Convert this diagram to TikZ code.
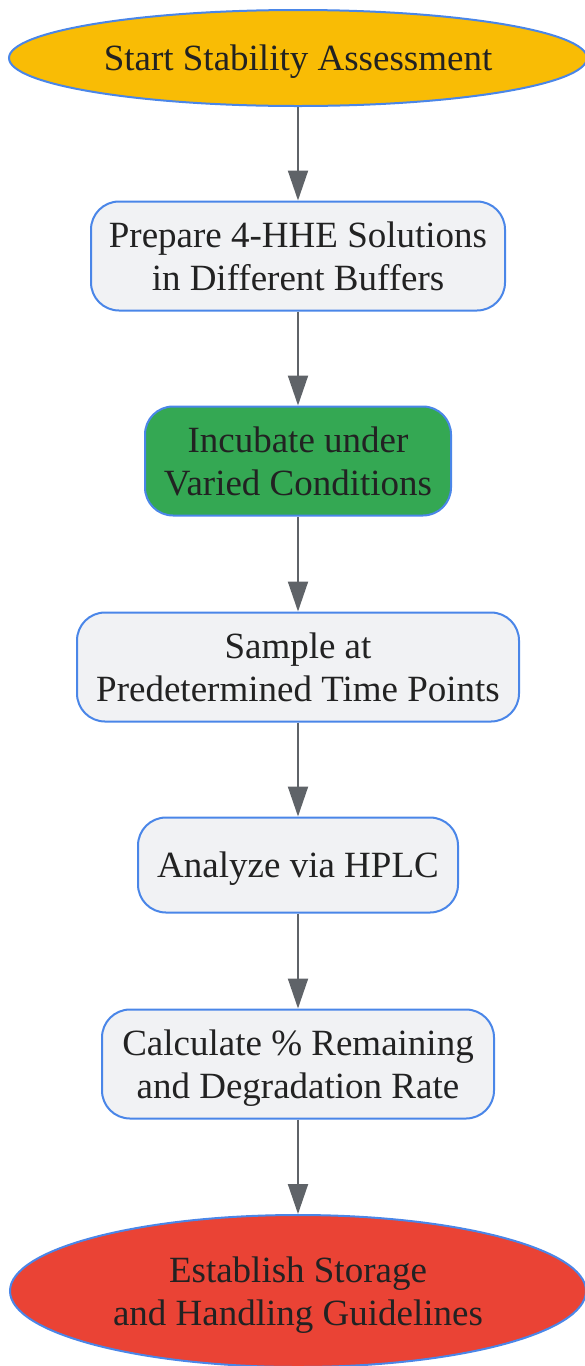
\documentclass[tikz,border=0pt]{standalone}
\usepackage{fontspec}
\setmainfont{Liberation Serif}
\usetikzlibrary{arrows.meta,shapes.geometric}
\definecolor{edgeblue}{HTML}{4A86E8}
\definecolor{boxgray}{HTML}{F1F2F4}
\definecolor{linkgray}{HTML}{5F6368}
\definecolor{textdark}{HTML}{222222}
\definecolor{startyellow}{HTML}{F9BC05}
\definecolor{stepgreen}{HTML}{34A853}
\definecolor{endred}{HTML}{EA4335}
% text set a little lower inside its shape
\newcommand{\steptext}[1]{\raisebox{-2pt}[\height][\depth]{\begin{tabular}{@{}c@{}}#1\end{tabular}}}
\tikzset{
  every node/.style={font=\fontsize{18.5}{21.5}\selectfont, text=textdark, inner sep=0pt},
  terminal/.style={ellipse, draw=edgeblue, line width=1pt},
  stepbox/.style={rectangle, rounded corners=14pt, draw=edgeblue, line width=1pt, fill=boxgray, minimum height=54.5pt},
  link/.style={draw=linkgray, line width=1pt, -{Triangle[width=10pt,length=15pt]}}
}
\begin{document}
\begin{tikzpicture}[x=0.5pt,y=-0.5pt]
      \useasboundingbox (0,0) rectangle (584,1366);
      \draw
        (298,58) node[terminal, fill=startyellow, minimum width=289pt, minimum height=48pt] (start){\steptext{Start Stability Assessment}}
        (298,256) node[stepbox, minimum width=207pt] (prep){\steptext{Prepare 4-HHE Solutions\\in Different Buffers}}
        (298,461) node[stepbox, fill=stepgreen, minimum width=153pt] (incub){\steptext{Incubate under\\Varied Conditions}}
        (298,667) node[stepbox, minimum width=221pt] (sample){\steptext{Sample at\\Predetermined Time Points}}
        (298,865) node[stepbox, minimum width=160pt, minimum height=47.5pt] (hplc){\steptext{Analyze via HPLC}}
        (298,1064) node[stepbox, minimum width=196pt] (calc){\steptext{Calculate \% Remaining\\and Degradation Rate}}
        (298,1291) node[terminal, fill=endred, minimum width=288pt, minimum height=76pt] (guide){\steptext{Establish Storage\\and Handling Guidelines}};
      \begin{scope}[link]
        \draw (start) to (prep);
        \draw (prep) to (incub);
        \draw (incub) to (sample);
        \draw (sample) to (hplc);
        \draw (hplc) to (calc);
        \draw (calc) to (guide);
      \end{scope}
    \end{tikzpicture}
\end{document}
